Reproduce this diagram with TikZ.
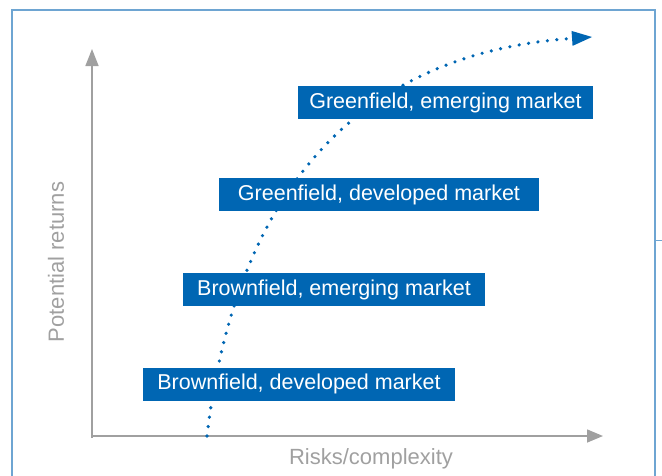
\documentclass[tikz,border=0pt]{standalone}
\definecolor{boxblue}{RGB}{0, 102, 179}
\definecolor{frameblue}{RGB}{110, 165, 210}
\definecolor{axisgray}{RGB}{160, 160, 160}
\usepackage{fontspec}
\setmainfont{Liberation Sans}
\usepackage{tikz}
\usetikzlibrary{arrows.meta}

\tikzset{
  optionbox/.style={fill=boxblue, text=white, inner sep=0pt, minimum height=33pt,
    font=\fontsize{21.5}{24}\selectfont},
  axislabel/.style={text=axisgray, font=\fontsize{22}{25}\selectfont}
}

\begin{document}
\begin{tikzpicture}[x=1pt, y=-1pt]
        \useasboundingbox (0,0) rectangle (662,475);
        % frame
        \draw[frameblue, line width=1.5pt] (12,476) -- (12,10) -- (655,10) -- (655,476);
        \draw[frameblue, line width=1pt] (655,240) -- (663,240);

        % axes
        \coordinate (origin) at (92,436);
        \coordinate (ytop) at (92,49);
        \coordinate (xend) at (603,436);
        \draw[axisgray, line width=1.5pt, -{Triangle[length=17pt, width=13pt]}] (92,438) -- (ytop);
        \draw[axisgray, line width=1.5pt, -{Triangle[length=16pt, width=13pt]}] (91,436) -- (xend);
        \node[axislabel, rotate=90] (ylabel) at (56,262) {Potential returns};
        \node[axislabel] (xlabel) at (371,459) {Risks/complexity};

        % path of options
        \coordinate (start) at (207,436);
        \coordinate (finish) at (592,37);
        \draw[boxblue, line width=3.6pt, line cap=round, dash pattern=on 0pt off 9.5pt,
              -{Triangle[length=20pt, width=15pt, line cap=butt, line width=0pt]}]
              (start) .. controls (232,220) and (335,55) .. (finish);

        \node[optionbox, minimum width=295pt] (gem) at (445.5,102.5) {Greenfield, emerging market};
        \node[optionbox, minimum width=320pt] (gdm) at (379,194.5) {Greenfield, developed market};
        \node[optionbox, minimum width=302pt] (bem) at (334,289.5) {Brownfield, emerging market};
        \node[optionbox, minimum width=312pt] (bdm) at (299,384) {Brownfield, developed market};
      \end{tikzpicture}
\end{document}
